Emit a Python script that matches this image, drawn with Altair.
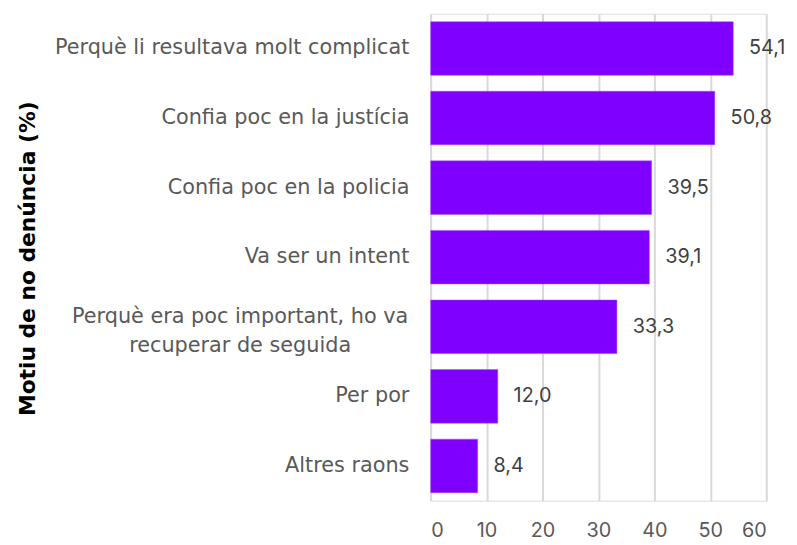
import altair as alt
import pandas as pd

categories = [
    "Perquè li resultava molt complicat",
    "Confia poc en la justícia",
    "Confia poc en la policia",
    "Va ser un intent",
    "Perquè era poc important, ho va\nrecuperar de seguida",
    "Per por",
    "Altres raons",
]
values = [54.1, 50.8, 39.5, 39.1, 33.3, 12.0, 8.4]
x_ticks = [0, 10, 20, 30, 40, 50, 60]

df = pd.DataFrame({"motiu": categories, "valor": values})

LABEL_FONT = "DejaVu Sans"
NUM_FONT = "Inter"
wrapped = categories[4]
test_wrapped = "datum.value == " + repr(wrapped).replace("\n", "\\n")

y_enc = alt.Y(
    "motiu:N",
    sort=categories,
    scale=alt.Scale(paddingInner=0.23, paddingOuter=0.115),
    axis=alt.Axis(
        title="Motiu de no denúncia (%)",
        titleFont="DejaVu Sans",
        titleFontSize=22,
        titleFontWeight="bold",
        titleColor="#000000",
        titleX=-407,
        titleY=247,
        titleAlign="center",
        titleBaseline="middle",
        titleAngle=-90,
        labelExpr='split(datum.label, "\\n")',
        labelFont=LABEL_FONT,
        labelFontSize=21,
        labelColor="#595959",
        labelLimit=500,
        labelLineHeight=29,
        labelAlign={"condition": {"test": test_wrapped, "value": "center"}, "value": "right"},
        labelPadding={"condition": {"test": test_wrapped, "value": 193}, "value": 22},
        labelOffset={"condition": {"test": test_wrapped, "value": -10}, "value": 0},
        domain=False,
        ticks=False,
        grid=False,
    ),
)

x_enc = alt.X(
    "valor:Q",
    scale=alt.Scale(domain=[0, 60], nice=False),
    axis=alt.Axis(
        title=None,
        values=x_ticks,
        labelFont=NUM_FONT,
        labelFontSize=20,
        labelColor="#595959",
        labelPadding=20,
        grid=True,
        gridColor="#d9d9d9",
        gridWidth=2,
        domain=False,
        ticks=False,
    ),
)

bars = alt.Chart(df).mark_bar(color="#8000ff", stroke="#a04dff", strokeWidth=0.5).encode(
    y=y_enc, x=x_enc
)

labels = (
    alt.Chart(df)
    .transform_calculate(lab="replace(format(datum.valor, '.1f'), '.', ',')")
    .mark_text(align="left", baseline="middle", dx=16, font=NUM_FONT, fontSize=20, color="#404040")
    .encode(y=alt.Y("motiu:N", sort=categories), x="valor:Q", text="lab:N")
)

chart = (
    alt.layer(bars, labels)
    .properties(
        width=339,
        height=492,
        autosize=alt.AutoSizeParams(type="none"),
        padding={"left": 427, "top": 3, "right": 23, "bottom": 42},
    )
    .configure_view(stroke=None)
    .configure(background="#ffffff")
)

chart.save("out.html", embed_options={"renderer": "svg", "actions": False})
